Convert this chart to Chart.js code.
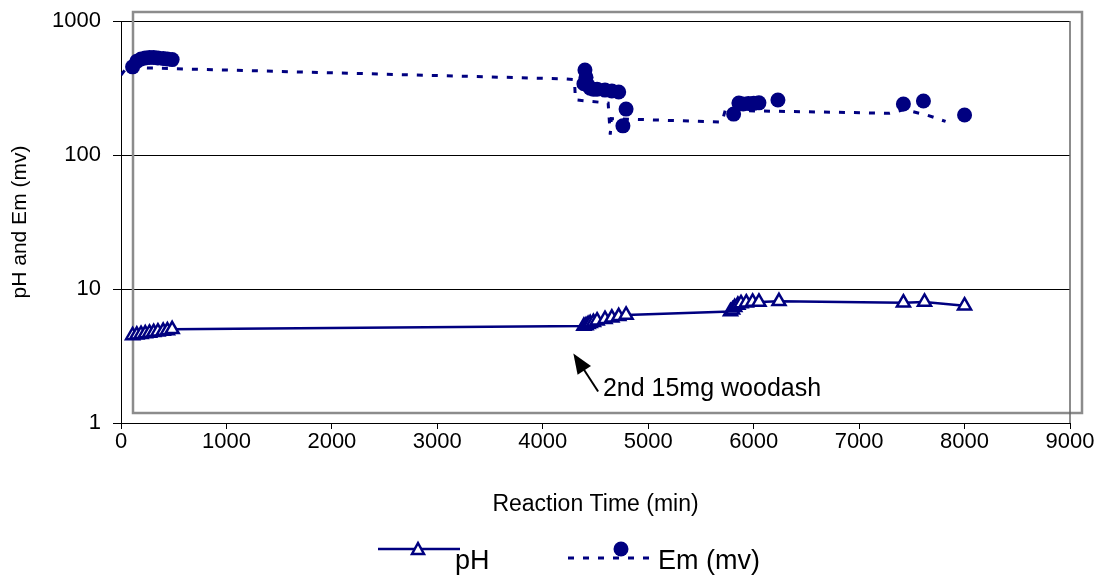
<!DOCTYPE html>
<html>
<head>
<meta charset="utf-8">
<script src="https://cdn.jsdelivr.net/npm/chart.js@4.4.1/dist/chart.umd.min.js"></script>
<style>
    body { margin: 0; background: #fff; }
    #wrap { width: 1103px; height: 577px; }
</style>
</head>
<body>
<div id="wrap"><canvas id="phchart"></canvas></div>
<script>
const phChart = document.getElementById("phchart");

// pH readings (min, pH)
const phTime = [110, 150, 190, 230, 270, 310, 350, 400, 440, 485,
    4390, 4410, 4430, 4450, 4480, 4515, 4590, 4655, 4720, 4790,
    5780, 5800, 5820, 5850, 5880, 5930, 5990, 6050, 6240,
    7420, 7620, 8000];
const phValue = [4.5, 4.55, 4.6, 4.65, 4.7, 4.75, 4.8, 4.85, 4.9, 5.0,
    5.3, 5.35, 5.45, 5.55, 5.65, 5.8, 5.95, 6.1, 6.25, 6.4,
    6.8, 7.0, 7.3, 7.6, 7.8, 7.9, 8.0, 8.0, 8.1,
    7.9, 8.0, 7.5];

// Em readings (min, mv) - markers
const emTime = [110, 150, 190, 230, 270, 310, 350, 400, 440, 485,
    4390, 4400, 4410, 4430, 4450, 4480, 4515, 4590, 4655, 4720, 4760, 4790,
    5810, 5860, 5900, 5950, 6000, 6050, 6230,
    7420, 7610, 8000];
const emValue = [455, 500, 520, 530, 535, 535, 530, 525, 520, 515,
    340, 430, 380, 330, 315, 310, 310, 305, 300, 295, 165, 220,
    202, 244, 240, 242, 243, 245, 257,
    240, 253, 199];

// Em dashed trace
const emLineTime = [0, 60, 130, 300, 4200, 4300, 4310, 4620, 4640, 4650, 5700, 5730, 7290, 7430, 7650, 7820];
const emLineValue = [395, 455, 450, 445, 370, 365, 258, 244, 142, 187, 176, 215, 205, 218, 198, 178];

const xTicks = [0, 1000, 2000, 3000, 4000, 5000, 6000, 7000, 8000, 9000];
const yTicks = [1, 10, 100, 1000];

const navy = "#000080";
const fontFamily = "'Liberation Sans', Arial, sans-serif";

function toPoints(xs, ys) {
    return xs.map((x, i) => ({ x: x, y: ys[i] }));
}

const extras = {
    id: 'extras',
    beforeDatasetsDraw(chart) {
        const a = chart.chartArea;
        const ctx = chart.ctx;
        ctx.save();
        // offset grey plot frame
        ctx.strokeStyle = "#8c8c8c";
        ctx.lineWidth = 2.5;
        ctx.strokeRect(a.left + 12, a.top - 9, a.width, a.height - 1);
        // right edge of plot area
        ctx.strokeStyle = "#666";
        ctx.lineWidth = 1.5;
        ctx.beginPath();
        ctx.moveTo(a.right, a.top);
        ctx.lineTo(a.right, a.bottom);
        ctx.stroke();
        ctx.restore();
    },
    afterDraw(chart) {
        const ctx = chart.ctx;
        const xs = chart.scales.x;
        const ys = chart.scales.y;
        ctx.save();

        // annotation arrow
        const tipX = xs.getPixelForValue(4290), tipY = ys.getPixelForValue(3.3);
        const tailX = xs.getPixelForValue(4525), tailY = ys.getPixelForValue(1.72);
        const ang = Math.atan2(tipY - tailY, tipX - tailX);
        ctx.strokeStyle = "#000";
        ctx.fillStyle = "#000";
        ctx.lineWidth = 2;
        ctx.beginPath();
        ctx.moveTo(tailX, tailY);
        ctx.lineTo(tipX - 12 * Math.cos(ang), tipY - 12 * Math.sin(ang));
        ctx.stroke();
        ctx.beginPath();
        ctx.moveTo(tipX, tipY);
        ctx.lineTo(tipX - 20 * Math.cos(ang) + 8 * Math.sin(ang), tipY - 20 * Math.sin(ang) - 8 * Math.cos(ang));
        ctx.lineTo(tipX - 20 * Math.cos(ang) - 8 * Math.sin(ang), tipY - 20 * Math.sin(ang) + 8 * Math.cos(ang));
        ctx.closePath();
        ctx.fill();

        ctx.font = "25px " + fontFamily;
        ctx.textBaseline = "middle";
        ctx.textAlign = "left";
        ctx.fillText("2nd 15mg woodash", xs.getPixelForValue(4570), ys.getPixelForValue(1.8));

        // legend
        ctx.strokeStyle = navy;
        ctx.lineWidth = 2.5;
        ctx.beginPath();
        ctx.moveTo(378, 549);
        ctx.lineTo(460, 549);
        ctx.stroke();
        ctx.fillStyle = "#fff";
        ctx.beginPath();
        ctx.moveTo(418, 543);
        ctx.lineTo(424, 554);
        ctx.lineTo(412, 554);
        ctx.closePath();
        ctx.fill();
        ctx.stroke();

        ctx.lineWidth = 3;
        ctx.setLineDash([6, 9]);
        ctx.beginPath();
        ctx.moveTo(568, 558);
        ctx.lineTo(652, 558);
        ctx.stroke();
        ctx.setLineDash([]);
        ctx.fillStyle = navy;
        ctx.beginPath();
        ctx.arc(621, 549, 7.5, 0, Math.PI * 2);
        ctx.fill();

        ctx.fillStyle = "#000";
        ctx.font = "27px " + fontFamily;
        ctx.textBaseline = "alphabetic";
        ctx.fillText("pH", 455, 569);
        ctx.fillText("Em (mv)", 658, 569);
        ctx.restore();
    }
};

const phChartInstance = new Chart(phChart, {
    type: "scatter",
    data: {
        datasets: [
            {
                label: "pH",
                data: toPoints(phTime, phValue),
                showLine: true,
                borderColor: navy,
                borderWidth: 2.5,
                pointStyle: "triangle",
                pointRadius: 7.5,
                pointBorderWidth: 2.5,
                pointBackgroundColor: "#fff",
                pointBorderColor: navy,
            },
            {
                label: "Em line",
                data: toPoints(emLineTime, emLineValue),
                showLine: true,
                borderColor: navy,
                borderWidth: 3,
                borderDash: [6, 9],
                pointRadius: 0,
            },
            {
                label: "Em (mv)",
                data: toPoints(emTime, emValue),
                showLine: false,
                pointStyle: "circle",
                pointRadius: 7.5,
                pointBorderWidth: 0,
                pointBackgroundColor: navy,
                pointBorderColor: navy,
            },
        ],
    },
    options: {
        responsive: true,
        maintainAspectRatio: false,
        animation: false,
        layout: {
            padding: { top: 21, right: 33, bottom: 54, left: 0 }
        },
        plugins: {
            legend: { display: false },
            tooltip: { enabled: false }
        },
        scales: {
            x: {
                type: "linear",
                min: 0,
                max: 9000,
                afterFit: (scale) => { scale.height = 100; },
                afterBuildTicks: (scale) => { scale.ticks = xTicks.map(v => ({ value: v })); },
                border: { color: "#000", width: 1 },
                grid: { drawOnChartArea: false, color: "#000", tickLength: 6 },
                ticks: {
                    color: "#000",
                    font: { size: 22, family: fontFamily },
                    padding: 0,
                    maxRotation: 0,
                    callback: (v) => String(v)
                },
                title: {
                    display: true,
                    text: "Reaction Time (min)",
                    color: "#000",
                    font: { size: 23, family: fontFamily },
                    padding: { top: 0, bottom: 5 }
                }
            },
            y: {
                type: "logarithmic",
                min: 1,
                max: 1000,
                afterFit: (scale) => {
                    scale.width = 121;
                    scale.paddingTop = 0;
                    scale.paddingBottom = 0;
                },
                afterBuildTicks: (scale) => { scale.ticks = yTicks.map(v => ({ value: v })); },
                border: { color: "#000", width: 1 },
                grid: { color: "#000", lineWidth: 1, tickLength: 8 },
                ticks: {
                    color: "#000",
                    font: { size: 22, family: fontFamily },
                    padding: 12,
                    callback: (v) => String(v)
                },
                title: {
                    display: true,
                    text: "pH and Em (mv)",
                    color: "#000",
                    font: { size: 21, family: fontFamily },
                    padding: { top: 8, bottom: 0 }
                }
            }
        }
    },
    plugins: [extras]
});
</script>
</body>
</html>
